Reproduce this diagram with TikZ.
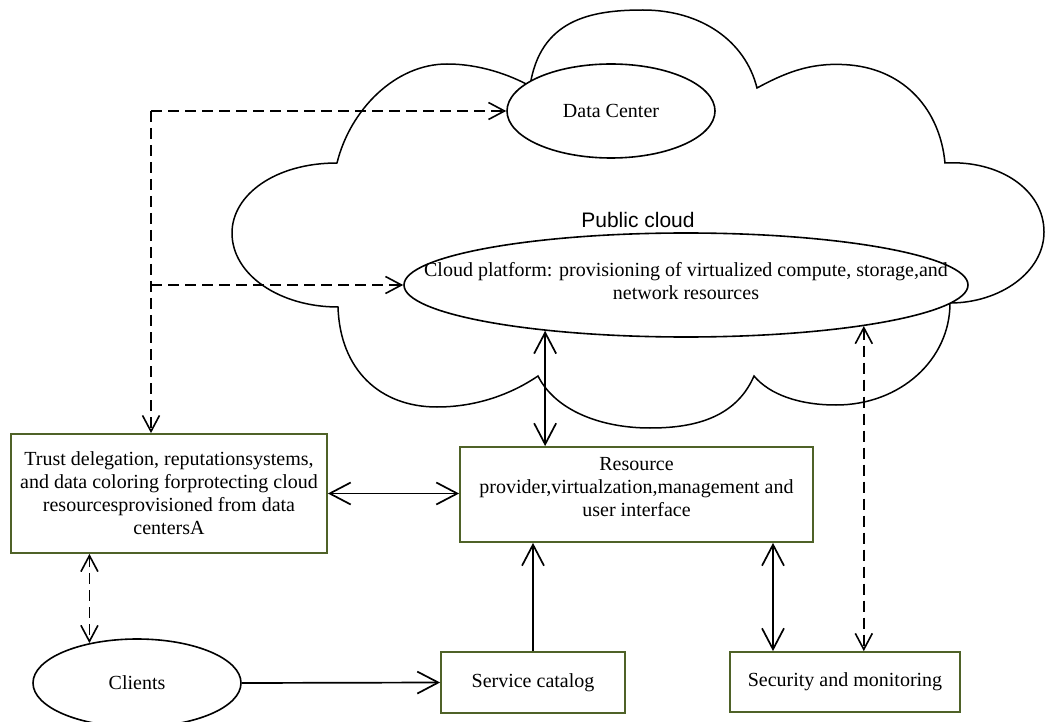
\documentclass[tikz,border=0pt]{standalone}
\usepackage{fontspec}
\setmainfont{Liberation Serif}
\newfontfamily\arialfont{Liberation Sans}
\usetikzlibrary{arrows.meta,shapes.geometric,calc}
\definecolor{boxolive}{RGB}{79,98,40}
\begin{document}
\begin{tikzpicture}[x=1pt,y=-1pt,
  txt/.style={font=\fontsize{20}{23}\selectfont},
  box/.style={draw=boxolive,line width=1.8pt,rectangle,inner sep=0pt,align=center,txt},
  oval/.style={draw=black,line width=1.6pt,ellipse,inner sep=0pt,fill=white,txt},
  link/.style={line width=1.7pt,black,>={Straight Barb[length=21pt,width=22pt]}},
  dlink/.style={line width=1.6pt,black,dash pattern=on 11pt off 6pt,>={Straight Barb[length=16pt,width=17pt]}},
  cloudline/.style={line width=1.5pt,black}
]
\fill[white] (0,0) rectangle (1045,722);
\useasboundingbox (0,0) rectangle (1045,722);

% cloud outline
\draw[cloudline] (530,86) .. controls (540,20) and (590,10) .. (643,10) .. controls (700,10) and (745,40) .. (757,88)
 .. controls (790,70) and (815,62) .. (850,65) .. controls (905,70) and (940,110) .. (945,163)
 .. controls (1000,160) and (1044,190) .. (1044,232) .. controls (1044,272) and (1000,303) .. (950,303)
 .. controls (950,360) and (900,405) .. (836,405) .. controls (800,405) and (770,395) .. (754,376)
 .. controls (735,420) and (690,428) .. (650,428) .. controls (600,428) and (555,410) .. (538,376)
 .. controls (510,395) and (475,407) .. (437,407) .. controls (380,407) and (340,370) .. (338,307)
 .. controls (280,307) and (232,275) .. (232,233) .. controls (232,195) and (275,163) .. (337,163)
 .. controls (350,110) and (395,64) .. (447,64) .. controls (480,64) and (510,75) .. (530,86) -- cycle;

% nodes
\node[oval, minimum width=208pt, minimum height=94pt] (dc) at (611,111) {Data Center};
\node[oval, minimum width=564pt, minimum height=104pt] (cp) at (686,285)
  {\makebox[0pt]{\smash{\raisebox{-3.5pt}{\begin{tabular}{@{}c@{}}Cloud platform: provisioning of virtualized compute, storage,and\\ network resources\end{tabular}}}}};
\node[font=\arialfont\fontsize{21}{25}\selectfont] (pc) at (638,220) {Public cloud};

\node[box, minimum width=316pt, minimum height=119pt] (trust) at (169,493.5)
  {Trust delegation, reputationsystems,\\ and data coloring forprotecting cloud\\ resourcesprovisioned from data\\ centersA};
\node[box, minimum width=353pt, minimum height=95pt] (res) at (636.5,494.5)
  {\makebox[0pt]{\smash{\begin{tabular}{@{}c@{}}Resource\\ provider,virtualzation,management and\\ user interface\end{tabular}}}};
\node[box, minimum width=184pt, minimum height=61pt] (sc) at (533,682.5) {Service catalog};
\node[box, minimum width=230pt, minimum height=60pt] (sec) at (845,682) {Security and monitoring};
\node[oval, minimum width=208pt, minimum height=88pt] (cl) at (137,683) {Clients};

% connectors
\coordinate (bus) at (151,111);
\draw[dlink,->] (bus) -- (dc.west);
\draw[dlink,->] (bus) -- (bus |- trust.north);
\draw[dlink,->] (bus |- cp.west) -- (cp.west);
\draw[link,<->] (trust.east) -- (trust.east -| res.west);
\draw[link,<->] (cp.198) -- (cp.198 |- res.north);
\draw[link,->] (sc.north) -- (sc.north |- res.south);
\coordinate (rsx) at (773,600);
\draw[link,<->] (res.south -| rsx) -- (sec.north -| rsx);
\draw[dlink,<->] (cp.347) -- (cp.347 |- sec.north);
\draw[dlink,<->] (trust.south -| cl.140) -- (cl.140);
\draw[link,->] (cl.east) -- (sc.west);
\end{tikzpicture}
\end{document}
